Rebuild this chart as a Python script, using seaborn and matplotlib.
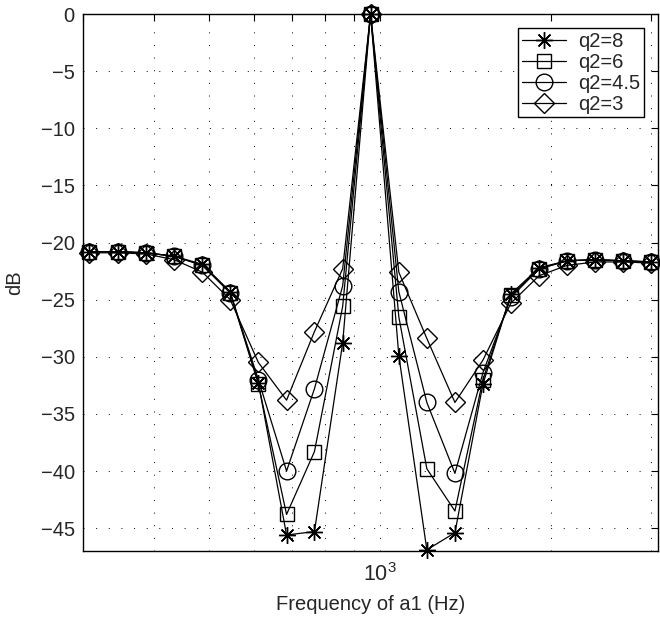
import matplotlib
matplotlib.use("Agg")
import matplotlib.pyplot as plt
import seaborn as sns
import pandas as pd
from matplotlib.ticker import FixedLocator, NullFormatter

# ---- data ----
freqs = [308, 346, 387, 434, 487, 545, 611, 685, 767, 860, 963,
         1080, 1210, 1356, 1519, 1702, 1908, 2138, 2396, 2685, 3008]

q2_8 = [-20.8, -20.8, -20.9, -21.2, -21.9, -24.3, -32.3, -45.6, -45.3, -28.8, 0.0,
        -29.9, -46.9, -45.4, -32.4, -24.5, -22.2, -21.6, -21.5, -21.6, -21.7]
q2_6 = [-20.8, -20.8, -20.9, -21.2, -22.0, -24.4, -32.4, -43.8, -38.3, -25.6, 0.0,
        -26.5, -39.8, -43.5, -32.0, -24.6, -22.3, -21.6, -21.5, -21.6, -21.7]
q2_45 = [-20.8, -20.8, -20.9, -21.2, -22.0, -24.4, -32.0, -40.0, -32.8, -23.8, 0.0,
         -24.3, -34.0, -40.2, -31.4, -24.8, -22.3, -21.6, -21.5, -21.6, -21.7]
q2_3 = [-20.9, -20.9, -21.0, -21.5, -22.6, -25.0, -30.5, -33.8, -27.8, -22.3, 0.0,
        -22.6, -28.4, -34.0, -30.3, -25.3, -22.9, -22.0, -21.7, -21.7, -21.8]

series_names = ["q2=8", "q2=6", "q2=4.5", "q2=3"]
series_values = [q2_8, q2_6, q2_45, q2_3]

y_ticks = [0, -5, -10, -15, -20, -25, -30, -35, -40, -45]
x_minor_ticks = [300, 400, 500, 600, 700, 800, 900, 2000, 3000]
x_major_ticks = [1000]
x_major_labels = [r"$\mathregular{10^{3}}$"]

# ---- styling ----
sns.set_style("white")
plt.rcParams["font.family"] = ["Liberation Sans", "DejaVu Sans"]
plt.rcParams["mathtext.default"] = "regular"
plt.rcParams["mathtext.fontset"] = "custom"
plt.rcParams["mathtext.rm"] = "Liberation Sans"

FS = 14.5

markers = {
    "q2=8": dict(marker=(8, 2, 0), ms=12),
    "q2=6": dict(marker="s", ms=10.5),
    "q2=4.5": dict(marker="o", ms=12),
    "q2=3": dict(marker="D", ms=10),
}

fig = plt.figure(figsize=(6.6, 6.31), dpi=100)
ax = fig.add_axes([83 / 660, 1 - 551 / 631, (658 - 83) / 660, (551 - 14) / 631])

for name, vals in zip(series_names, series_values):
    df = pd.DataFrame({"freq": freqs, "dB": vals})
    mk = markers[name]
    sns.lineplot(data=df, x="freq", y="dB", ax=ax, color="k", lw=0.9,
                 marker=mk["marker"], ms=mk["ms"], mfc="none", mec="k", mew=1.0,
                 label=name, clip_on=False, zorder=3)

ax.set_xscale("log")
ax.set_xlim(300, 3090)
ax.set_ylim(-47, 0)

ax.xaxis.set_major_locator(FixedLocator(x_major_ticks))
ax.set_xticklabels(x_major_labels)
ax.xaxis.set_minor_locator(FixedLocator(x_minor_ticks))
ax.xaxis.set_minor_formatter(NullFormatter())
ax.set_yticks(y_ticks)
ax.set_yticklabels([("\u2212" + str(-t)) if t < 0 else str(t) for t in y_ticks])

ax.tick_params(axis="both", which="both", direction="in", top=True, right=True,
               labelsize=FS, color="k", width=0.8)
ax.tick_params(axis="both", which="major", length=5)
ax.tick_params(axis="x", which="minor", length=5)
ax.tick_params(axis="x", which="major", pad=9, labelsize=15.5)
ax.tick_params(axis="y", which="major", pad=6)

dot = (0, (1, 12))
ax.grid(True, which="major", axis="both", color="k", linestyle=dot, linewidth=0.7)
ax.grid(True, which="minor", axis="x", color="k", linestyle=dot, linewidth=0.7)

for s in ax.spines.values():
    s.set_visible(True)
    s.set_color("k")
    s.set_linewidth(1.0)

ax.set_xlabel("Frequency of a1 (Hz)", fontsize=FS, labelpad=6)
ax.set_ylabel("dB", fontsize=FS, labelpad=12)

leg = ax.legend(loc="upper right", fontsize=FS, frameon=True, fancybox=False,
                edgecolor="k", framealpha=1, borderaxespad=0.7,
                handlelength=2.2, handletextpad=0.6, labelspacing=0.1,
                borderpad=0.18)
leg.get_frame().set_linewidth(1.0)

fig.savefig("out.png", dpi=100)
